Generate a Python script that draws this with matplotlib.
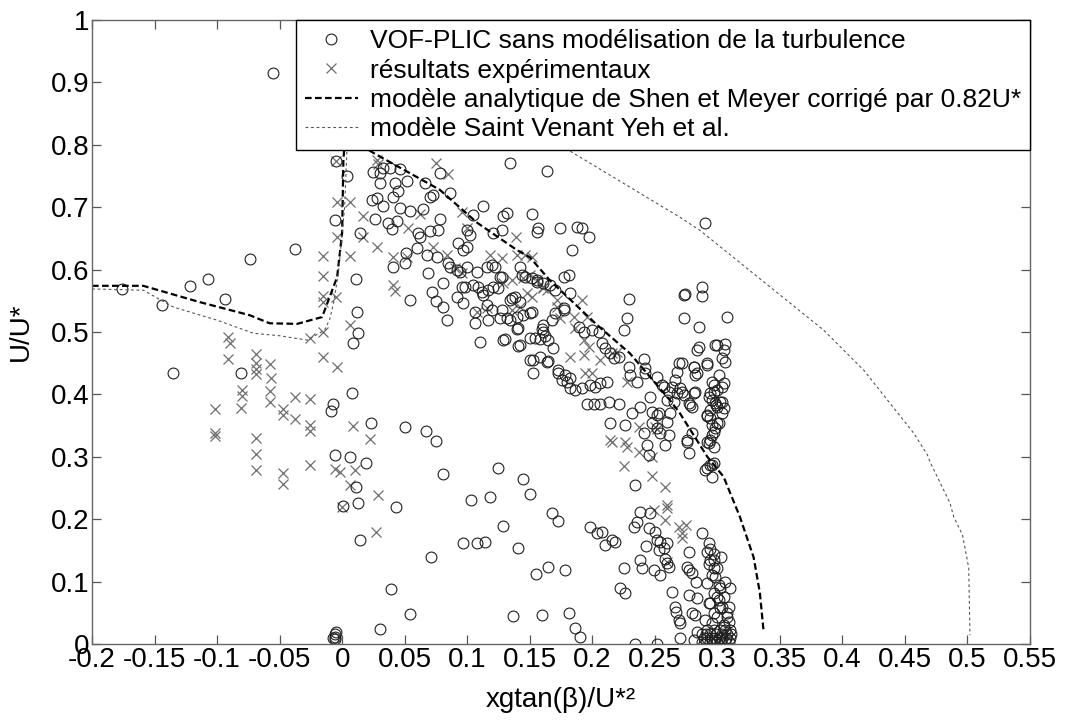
import matplotlib
matplotlib.use("Agg")
import matplotlib.pyplot as plt
from matplotlib.lines import Line2D

plt.rcParams['font.family'] = ['Liberation Sans', 'DejaVu Sans']

# modèle analytique de Shen et Meyer (corrigé par 0.82U*)
shen_x = [-0.2, -0.159, -0.114, -0.074, -0.058, -0.036, -0.016, -0.004, 0.0, 0.001,
          0.004, 0.010, 0.017, 0.025, 0.078, 0.108, 0.140, 0.150, 0.166, 0.204,
          0.230, 0.262, 0.270, 0.292, 0.305, 0.318, 0.329, 0.334, 0.337]
shen_y = [0.574, 0.574, 0.548, 0.527, 0.514, 0.513, 0.524, 0.588, 0.659, 0.776,
          0.85, 0.86, 0.797, 0.787, 0.728, 0.675, 0.631, 0.620, 0.583, 0.511,
          0.466, 0.391, 0.370, 0.300, 0.268, 0.204, 0.139, 0.082, 0.020]

# modèle Saint Venant Yeh et al.
sv_x = [-0.2, -0.159, -0.135, -0.100, -0.071, -0.050, -0.028, -0.014, -0.010, -0.007,
        -0.003, 0.002, 0.004, 0.03, 0.12, 0.178, 0.270, 0.286, 0.385, 0.417,
        0.436, 0.457, 0.468, 0.470, 0.486, 0.489, 0.496, 0.501, 0.502]
sv_y = [0.569, 0.567, 0.540, 0.519, 0.498, 0.494, 0.487, 0.503, 0.520, 0.545,
        0.594, 0.70, 0.80, 0.88, 0.86, 0.795, 0.684, 0.663, 0.503, 0.439,
        0.391, 0.338, 0.303, 0.292, 0.226, 0.204, 0.175, 0.122, 0.014]

# VOF-PLIC sans modélisation de la turbulence (x, y)
vof_left = [(-0.055, 0.915), (-0.176, 0.569), (-0.144, 0.543), (-0.122, 0.574), (-0.107, 0.585),
            (-0.094, 0.553), (-0.074, 0.617), (-0.038, 0.633), (-0.005, 0.774), (0.004, 0.750),
            (-0.006, 0.679), (0.014, 0.659), (0.011, 0.585), (0.012, 0.532), (0.013, 0.498),
            (-0.135, 0.434), (-0.081, 0.434), (0.009, 0.482), (0.008, 0.402), (-0.007, 0.385),
            (-0.009, 0.373), (-0.006, 0.303), (0.006, 0.300), (0.011, 0.252), (0.001, 0.221),
            (0.013, 0.226), (0.014, 0.167), (-0.006, 0.008), (-0.006, 0.012), (-0.006, 0.016),
            (-0.005, 0.019), (-0.007, 0.010)]

vof_low = [(0.023, 0.354), (0.050, 0.348), (0.067, 0.341), (0.075, 0.325), (0.019, 0.290),
           (0.081, 0.272), (0.125, 0.282), (0.145, 0.264), (0.150, 0.240), (0.103, 0.231),
           (0.118, 0.235), (0.043, 0.220), (0.168, 0.210), (0.173, 0.197), (0.129, 0.189),
           (0.097, 0.162), (0.108, 0.162), (0.114, 0.164), (0.141, 0.154), (0.071, 0.139),
           (0.165, 0.123), (0.155, 0.112), (0.178, 0.119), (0.039, 0.088), (0.054, 0.048),
           (0.137, 0.045), (0.160, 0.046), (0.181, 0.050), (0.030, 0.024), (0.186, 0.025),
           (0.190, 0.012)]

vof_band = [(0.025, 0.756), (0.030, 0.755), (0.033, 0.763), (0.038, 0.763), (0.046, 0.761),
            (0.030, 0.739), (0.042, 0.739), (0.045, 0.726), (0.052, 0.742), (0.066, 0.739),
            (0.078, 0.755), (0.134, 0.771), (0.164, 0.758), (0.024, 0.712), (0.028, 0.715),
            (0.033, 0.702), (0.041, 0.716), (0.046, 0.699), (0.054, 0.694), (0.070, 0.716),
            (0.073, 0.720), (0.086, 0.723), (0.065, 0.697), (0.026, 0.681), (0.037, 0.675),
            (0.044, 0.678), (0.040, 0.665), (0.061, 0.659), (0.062, 0.652), (0.070, 0.662),
            (0.077, 0.663), (0.078, 0.681), (0.105, 0.688), (0.113, 0.702), (0.129, 0.686),
            (0.132, 0.691), (0.152, 0.689), (0.157, 0.667), (0.156, 0.660), (0.121, 0.659),
            (0.128, 0.663), (0.100, 0.663), (0.102, 0.655), (0.060, 0.635), (0.051, 0.626),
            (0.050, 0.611), (0.068, 0.623), (0.076, 0.620), (0.041, 0.604), (0.054, 0.551),
            (0.069, 0.594), (0.072, 0.564), (0.075, 0.550), (0.081, 0.578), (0.081, 0.540),
            (0.084, 0.519), (0.085, 0.611), (0.093, 0.643), (0.097, 0.631), (0.100, 0.636),
            (0.086, 0.604), (0.092, 0.599), (0.094, 0.596), (0.100, 0.604), (0.108, 0.596),
            (0.116, 0.604), (0.120, 0.607), (0.122, 0.604), (0.096, 0.572), (0.098, 0.572),
            (0.105, 0.575), (0.109, 0.572), (0.113, 0.559), (0.092, 0.556), (0.097, 0.546),
            (0.106, 0.532), (0.116, 0.543), (0.121, 0.572), (0.125, 0.570), (0.126, 0.588),
            (0.136, 0.554), (0.138, 0.556), (0.144, 0.591), (0.150, 0.530), (0.161, 0.500),
            (0.126, 0.522), (0.134, 0.519), (0.140, 0.524), (0.145, 0.527), (0.141, 0.506),
            (0.106, 0.514), (0.130, 0.489), (0.150, 0.490), (0.110, 0.484), (0.117, 0.519),
            (0.140, 0.505), (0.142, 0.479), (0.154, 0.490), (0.150, 0.455), (0.153, 0.434),
            (0.158, 0.460), (0.165, 0.454), (0.160, 0.505), (0.169, 0.474), (0.128, 0.588),
            (0.142, 0.604), (0.146, 0.588), (0.156, 0.583), (0.161, 0.578), (0.112, 0.564),
            (0.117, 0.567), (0.134, 0.551), (0.142, 0.548), (0.120, 0.535), (0.128, 0.535),
            (0.132, 0.522), (0.152, 0.532), (0.158, 0.489), (0.162, 0.494), (0.165, 0.487),
            (0.141, 0.478), (0.129, 0.487)]

vof_mid = [(0.174, 0.667), (0.188, 0.668), (0.192, 0.667), (0.197, 0.652), (0.184, 0.631),
           (0.177, 0.588), (0.181, 0.591), (0.229, 0.553), (0.290, 0.675), (0.273, 0.559),
           (0.274, 0.561), (0.288, 0.572), (0.288, 0.558), (0.308, 0.524), (0.273, 0.522),
           (0.285, 0.508), (0.228, 0.522), (0.225, 0.503), (0.182, 0.562), (0.152, 0.587),
           (0.156, 0.580), (0.166, 0.575), (0.170, 0.567), (0.177, 0.535), (0.168, 0.519),
           (0.161, 0.511), (0.189, 0.508), (0.193, 0.500), (0.200, 0.503), (0.205, 0.500),
           (0.208, 0.482), (0.210, 0.474), (0.214, 0.466), (0.217, 0.458), (0.221, 0.460),
           (0.153, 0.455), (0.164, 0.452), (0.173, 0.434), (0.176, 0.423), (0.180, 0.420),
           (0.182, 0.410), (0.186, 0.407), (0.192, 0.410), (0.198, 0.415), (0.202, 0.412),
           (0.206, 0.418), (0.212, 0.420), (0.229, 0.444), (0.230, 0.431), (0.236, 0.420),
           (0.241, 0.457), (0.242, 0.434), (0.252, 0.428), (0.257, 0.412), (0.261, 0.404),
           (0.268, 0.402), (0.269, 0.450), (0.268, 0.436), (0.266, 0.423), (0.270, 0.410),
           (0.273, 0.399), (0.281, 0.444), (0.284, 0.434), (0.292, 0.447), (0.173, 0.439),
           (0.178, 0.431), (0.182, 0.426), (0.170, 0.530), (0.177, 0.538), (0.196, 0.385),
           (0.201, 0.385), (0.206, 0.385), (0.213, 0.388), (0.221, 0.385), (0.214, 0.354),
           (0.226, 0.351), (0.232, 0.370), (0.238, 0.380), (0.241, 0.338), (0.244, 0.319),
           (0.245, 0.303), (0.248, 0.354), (0.252, 0.367), (0.254, 0.338), (0.260, 0.356),
           (0.258, 0.319), (0.262, 0.370), (0.265, 0.388), (0.278, 0.383), (0.280, 0.338),
           (0.276, 0.324), (0.277, 0.306), (0.246, 0.396), (0.248, 0.372), (0.253, 0.370),
           (0.252, 0.346), (0.261, 0.335), (0.256, 0.415), (0.264, 0.412), (0.260, 0.391),
           (0.242, 0.442), (0.277, 0.386), (0.272, 0.404), (0.282, 0.404), (0.272, 0.450),
           (0.281, 0.402), (0.234, 0.255)]

vof_column = [(0.300, 0.479), (0.306, 0.481), (0.284, 0.471), (0.285, 0.476), (0.292, 0.450),
              (0.304, 0.458), (0.306, 0.452), (0.281, 0.444), (0.282, 0.431), (0.301, 0.431),
              (0.296, 0.420), (0.297, 0.415), (0.305, 0.418), (0.304, 0.412), (0.300, 0.407),
              (0.297, 0.404), (0.294, 0.402), (0.293, 0.396), (0.280, 0.380), (0.296, 0.391),
              (0.298, 0.386), (0.304, 0.388), (0.305, 0.378), (0.304, 0.370), (0.292, 0.365),
              (0.294, 0.362), (0.300, 0.354), (0.298, 0.346), (0.297, 0.340), (0.296, 0.335),
              (0.294, 0.327), (0.293, 0.322), (0.297, 0.316), (0.276, 0.327), (0.292, 0.367),
              (0.294, 0.375), (0.300, 0.380), (0.302, 0.388), (0.296, 0.351), (0.301, 0.354),
              (0.292, 0.324), (0.292, 0.282), (0.296, 0.287), (0.296, 0.268), (0.294, 0.287),
              (0.297, 0.290), (0.290, 0.279), (0.298, 0.479), (0.305, 0.471), (0.299, 0.383)]

vof_bottom = [(0.236, 0.196), (0.233, 0.188), (0.238, 0.212), (0.246, 0.210), (0.245, 0.186),
              (0.250, 0.180), (0.252, 0.167), (0.254, 0.163), (0.260, 0.162), (0.257, 0.154),
              (0.243, 0.157), (0.253, 0.151), (0.198, 0.188), (0.204, 0.178), (0.208, 0.180),
              (0.216, 0.167), (0.210, 0.159), (0.218, 0.163), (0.225, 0.122), (0.238, 0.135),
              (0.240, 0.122), (0.249, 0.119), (0.254, 0.111), (0.260, 0.130), (0.261, 0.123),
              (0.258, 0.137), (0.276, 0.123), (0.277, 0.119), (0.280, 0.114), (0.283, 0.099),
              (0.277, 0.147), (0.222, 0.090), (0.226, 0.082), (0.264, 0.083), (0.277, 0.079),
              (0.284, 0.074), (0.266, 0.059), (0.267, 0.051), (0.269, 0.038), (0.270, 0.033),
              (0.280, 0.049), (0.282, 0.046), (0.234, 0.000), (0.252, 0.000), (0.270, 0.010),
              (0.281, 0.006), (0.284, 0.019), (0.288, 0.178), (0.293, 0.162), (0.292, 0.147),
              (0.294, 0.135), (0.297, 0.135), (0.297, 0.122), (0.298, 0.108), (0.302, 0.090),
              (0.297, 0.082), (0.300, 0.076), (0.301, 0.071), (0.304, 0.059), (0.297, 0.050),
              (0.300, 0.044), (0.309, 0.035), (0.305, 0.030), (0.302, 0.022), (0.292, 0.098),
              (0.293, 0.066), (0.290, 0.038), (0.308, 0.044), (0.294, 0.153), (0.297, 0.145),
              (0.293, 0.129), (0.300, 0.121), (0.296, 0.110), (0.301, 0.095), (0.305, 0.076),
              (0.294, 0.066), (0.302, 0.058), (0.308, 0.049), (0.296, 0.033), (0.305, 0.028),
              (0.310, 0.022), (0.309, 0.060), (0.306, 0.100), (0.303, 0.140), (0.310, 0.090)]

vof_pile = [(0.288, 0.004), (0.291, 0.004), (0.294, 0.004), (0.297, 0.004), (0.300, 0.004),
            (0.303, 0.004), (0.306, 0.004), (0.309, 0.004), (0.289, 0.010), (0.292, 0.010),
            (0.295, 0.010), (0.298, 0.010), (0.301, 0.010), (0.304, 0.010), (0.307, 0.010),
            (0.310, 0.010), (0.288, 0.016), (0.291, 0.016), (0.294, 0.016), (0.299, 0.016),
            (0.304, 0.016), (0.308, 0.016), (0.311, 0.016), (0.292, 0.022), (0.297, 0.022),
            (0.306, 0.022)]

# résultats expérimentaux (x, y)
exp_left = [(-0.091, 0.492), (-0.090, 0.482), (-0.091, 0.457), (-0.102, 0.377), (-0.102, 0.338),
            (-0.102, 0.333), (-0.069, 0.465), (-0.069, 0.450), (-0.069, 0.441), (-0.069, 0.433),
            (-0.080, 0.407), (-0.080, 0.397), (-0.081, 0.378), (-0.069, 0.330), (-0.069, 0.304),
            (-0.069, 0.279), (-0.058, 0.449), (-0.057, 0.426), (-0.058, 0.405), (-0.058, 0.388),
            (-0.047, 0.377), (-0.047, 0.367), (-0.038, 0.396), (-0.038, 0.361), (-0.047, 0.274),
            (-0.047, 0.256), (-0.026, 0.393), (-0.026, 0.351), (-0.026, 0.341), (-0.026, 0.287),
            (-0.026, 0.490), (-0.015, 0.500), (-0.015, 0.460), (-0.004, 0.444), (-0.006, 0.280),
            (-0.002, 0.276), (0.009, 0.349), (0.010, 0.279), (0.006, 0.255), (0.000, 0.220),
            (-0.005, 0.774), (-0.004, 0.708), (0.006, 0.708), (-0.004, 0.653), (-0.015, 0.622),
            (-0.015, 0.590), (0.006, 0.621), (-0.015, 0.558), (-0.015, 0.548), (-0.005, 0.556),
            (0.006, 0.511), (0.022, 0.329), (0.029, 0.239), (0.027, 0.180)]

exp_band = [(0.075, 0.771), (0.085, 0.753), (0.029, 0.769), (0.028, 0.775), (0.017, 0.686),
            (0.062, 0.689), (0.017, 0.652), (0.028, 0.636), (0.041, 0.620), (0.052, 0.620),
            (0.053, 0.667), (0.073, 0.636), (0.041, 0.575), (0.042, 0.566), (0.084, 0.623),
            (0.090, 0.603), (0.096, 0.594), (0.118, 0.623), (0.128, 0.619), (0.139, 0.652),
            (0.096, 0.692), (0.100, 0.667), (0.140, 0.623), (0.146, 0.623), (0.108, 0.532),
            (0.116, 0.538), (0.129, 0.578), (0.136, 0.583), (0.145, 0.586), (0.150, 0.591),
            (0.156, 0.583), (0.161, 0.572), (0.164, 0.567), (0.148, 0.562), (0.152, 0.556),
            (0.136, 0.535), (0.142, 0.540), (0.152, 0.620), (0.161, 0.570), (0.172, 0.551),
            (0.172, 0.540), (0.192, 0.551), (0.185, 0.524), (0.186, 0.506), (0.196, 0.524),
            (0.193, 0.487), (0.197, 0.476), (0.193, 0.463), (0.206, 0.455), (0.182, 0.460),
            (0.174, 0.522), (0.216, 0.466), (0.220, 0.468), (0.228, 0.420), (0.194, 0.434),
            (0.200, 0.434)]

exp_right = [(0.214, 0.327), (0.216, 0.324), (0.226, 0.324), (0.228, 0.316), (0.237, 0.308),
             (0.248, 0.300), (0.225, 0.285), (0.248, 0.269), (0.258, 0.252), (0.249, 0.215),
             (0.260, 0.223), (0.260, 0.218), (0.258, 0.199), (0.269, 0.188), (0.272, 0.178),
             (0.272, 0.170), (0.237, 0.348), (0.250, 0.348), (0.252, 0.344), (0.260, 0.132),
             (0.275, 0.190)]

xtick_vals = [-0.2, -0.15, -0.1, -0.05, 0, 0.05, 0.1, 0.15, 0.2, 0.25, 0.3, 0.35, 0.4, 0.45, 0.5, 0.55]
xtick_labels = ["-0.2", "-0.15", "-0.1", "-0.05", "0", "0.05", "0.1", "0.15", "0.2", "0.25",
                "0.3", "0.35", "0.4", "0.45", "0.5", "0.55"]
ytick_vals = [0, 0.1, 0.2, 0.3, 0.4, 0.5, 0.6, 0.7, 0.8, 0.9, 1]
ytick_labels = ["0", "0.1", "0.2", "0.3", "0.4", "0.5", "0.6", "0.7", "0.8", "0.9", "1"]

vof = vof_left + vof_low + vof_band + vof_mid + vof_column + vof_bottom + vof_pile
exp = exp_left + exp_band + exp_right

fig = plt.figure(figsize=(10.66, 7.22), dpi=100)
ax = fig.add_axes([92 / 1066, 1 - 644 / 722, 938 / 1066, 624 / 722])

ax.plot([p[0] for p in exp], [p[1] for p in exp], linestyle="none", marker="x",
        markersize=7, markeredgewidth=0.9, color="#6e6e6e")
ax.plot([p[0] for p in vof], [p[1] for p in vof], linestyle="none", marker="o",
        markersize=7.8, markeredgewidth=0.8, markerfacecolor="none", markeredgecolor="#202020")
ax.plot(shen_x, shen_y, color="black", linewidth=1.6, dashes=(3, 1.5))
ax.plot(sv_x, sv_y, color="#555555", linewidth=0.8, dashes=(2.5, 2.5))

ax.set_xlim(-0.2, 0.55)
ax.set_ylim(0, 1)
ax.set_xticks(xtick_vals)
ax.set_xticklabels(xtick_labels)
ax.set_yticks(ytick_vals)
ax.set_yticklabels(ytick_labels)
ax.tick_params(direction="in", top=True, right=True, length=6.5, width=0.9,
               labelsize=20, pad=2, color="#555555")
for s in ax.spines.values():
    s.set_color("#666666")
    s.set_linewidth(1.0)

ax.set_xlabel("xgtan(β)/U*²", fontsize=20, labelpad=10)
ax.set_ylabel("U/U*", fontsize=20, labelpad=12)

handles = [
    Line2D([], [], linestyle="none", marker="o", markersize=7.8, markeredgewidth=0.8,
           markerfacecolor="none", markeredgecolor="#202020"),
    Line2D([], [], linestyle="none", marker="x", markersize=7, markeredgewidth=0.9, color="#6e6e6e"),
    Line2D([], [], color="black", linewidth=1.6, dashes=(3, 1.5)),
    Line2D([], [], color="#555555", linewidth=0.8, dashes=(2.5, 2.5)),
]
labels = ["VOF-PLIC sans modélisation de la turbulence",
          "résultats expérimentaux",
          "modèle analytique de Shen et Meyer corrigé par 0.82U*",
          "modèle Saint Venant Yeh et al."]
leg = ax.legend(handles, labels, loc="upper right", bbox_to_anchor=(1, 1), borderaxespad=0,
                fontsize=19, fancybox=False, framealpha=1, edgecolor="black",
                handlelength=2.0, handletextpad=0.45, labelspacing=0.2, borderpad=0.35)
leg.get_frame().set_linewidth(1.0)

fig.savefig("out.png", dpi=100)
